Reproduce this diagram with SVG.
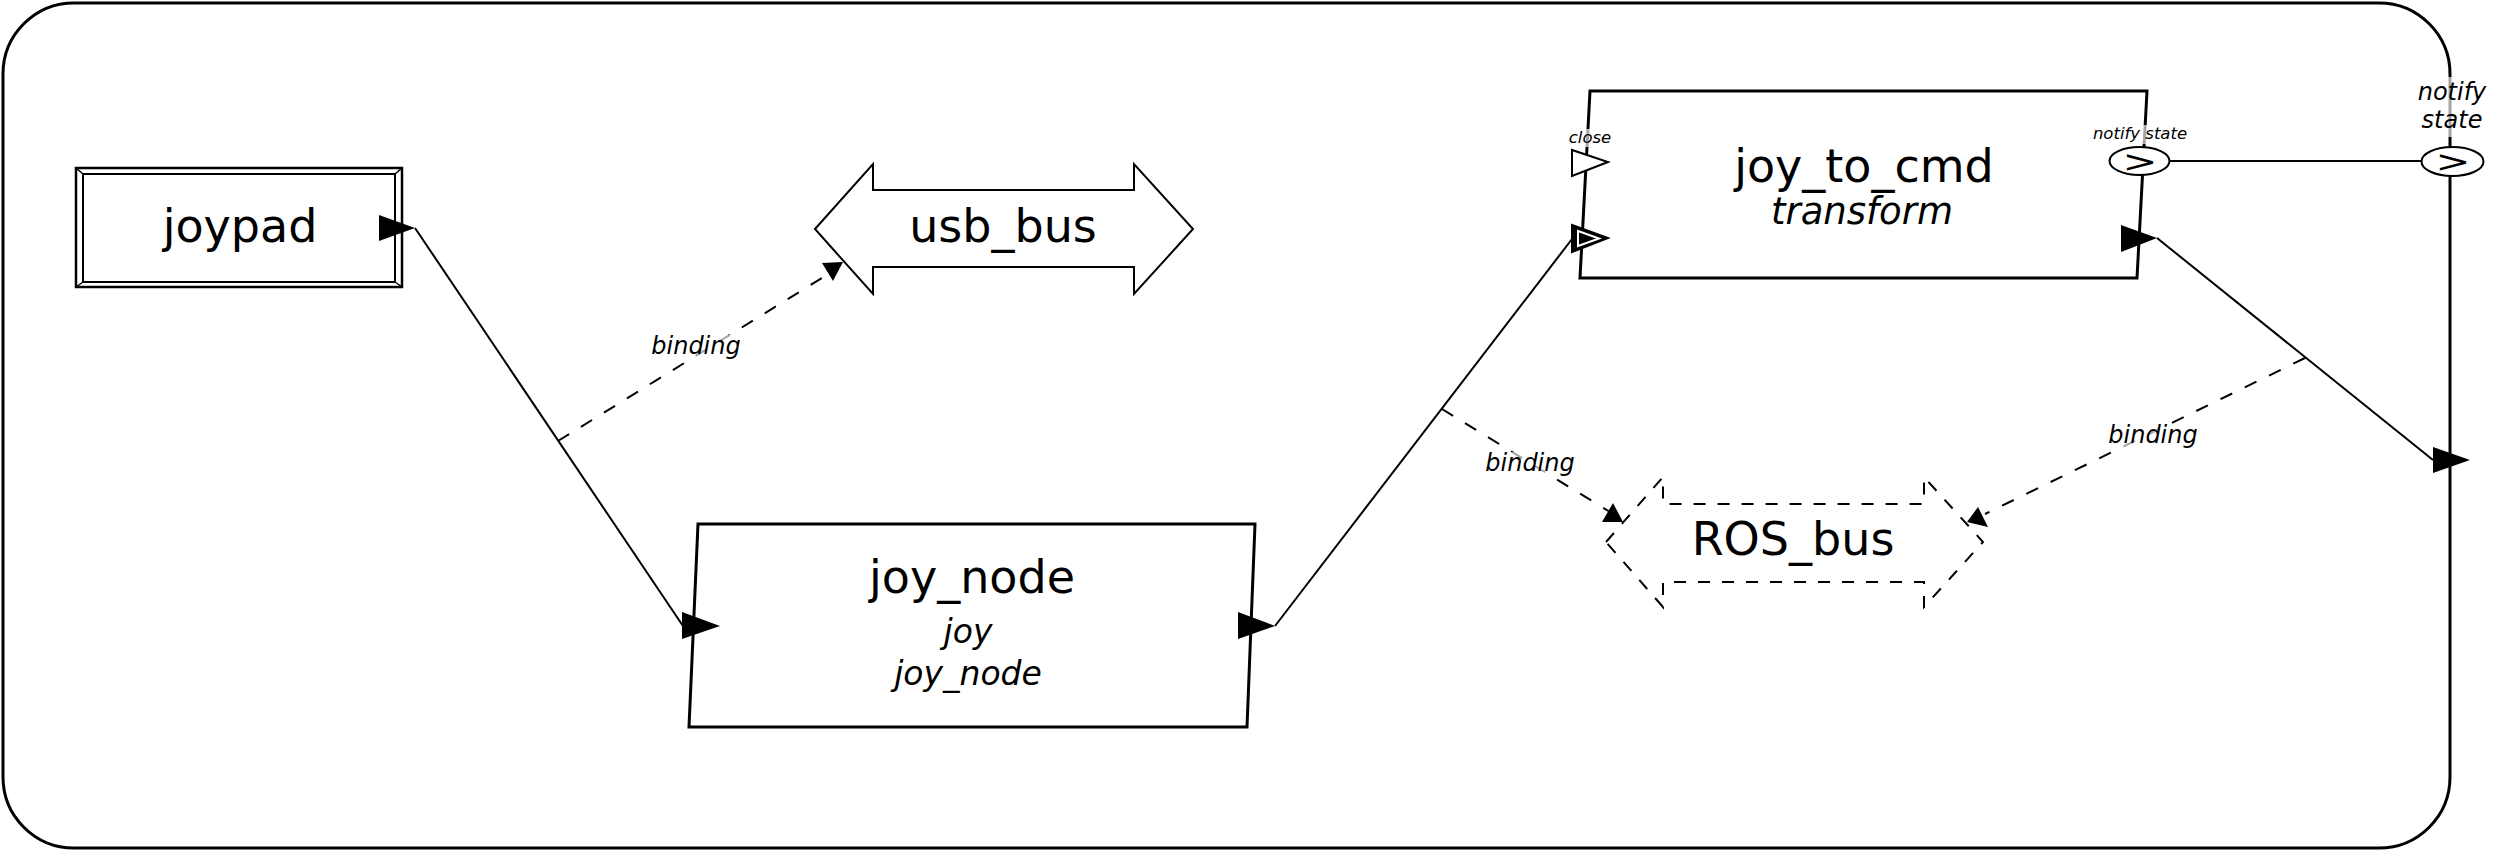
<svg xmlns="http://www.w3.org/2000/svg" width="2494" height="851" viewBox="0 0 2494 851">
<style>
text{font-family:"DejaVu Sans","Liberation Sans",sans-serif;fill:#000}
.title{font-size:46px;text-anchor:middle}
.sub{font-style:italic;text-anchor:middle}
.lbl{font-style:italic;font-size:24px;text-anchor:middle}
.plbl{font-style:italic;font-size:16.5px;text-anchor:middle}
.box{fill:#fff;stroke:#000;stroke-width:3}
.bus{fill:#fff;stroke:#000;stroke-width:2}
.dbus{fill:none;stroke:#000;stroke-width:2;stroke-dasharray:12 12}
.wire{fill:none;stroke:#000;stroke-width:2}
.bind{fill:none;stroke:#000;stroke-width:2;stroke-dasharray:13 14}
.blk{fill:#000;stroke:none}
.oport{fill:#fff;stroke:#000;stroke-width:2}
.bg{fill:#fff;fill-opacity:0.65}
.gt{font-size:31px;text-anchor:middle}
</style>

<g id="frame">
<rect x="3" y="3" width="2447" height="845" rx="71" ry="71" fill="#fff" stroke="#000" stroke-width="3"/>
</g>

<g id="joypad">
<rect x="76" y="168" width="326" height="119" fill="#fff" stroke="#000" stroke-width="2.5"/>
<rect x="83" y="174" width="312" height="108" fill="#fff" stroke="#000" stroke-width="2"/>
<path d="M76 168L83 174M402 168L395 174M76 287L83 282M402 287L395 282" stroke="#000" stroke-width="1.5"/>
<text class="title" x="240" y="242">joypad</text>
<polygon class="blk" points="379,215 379,241 415,228"/>
</g>

<g id="usb_bus">
<polygon class="bus" points="815,229 873,164 873,190 1134,190 1134,164 1193,229 1134,294 1134,267 873,267 873,294"/>
<text class="title" x="1003" y="242">usb_bus</text>
</g>

<g id="joy_node">
<polygon class="box" points="698,524 1255,524 1247,727 689,727"/>
<text class="title" x="972" y="593">joy_node</text>
<text class="sub" x="968" y="643" font-size="33">joy</text>
<text class="sub" x="968" y="685" font-size="33">joy_node</text>
<polygon class="blk" points="682,612 682,639 720,626"/>
<polygon class="blk" points="1238,612 1238,639 1275,626"/>
</g>

<g id="ROS_bus">
<polygon fill="#fff" stroke="none" points="1606,542 1663,477 1663,504 1924,504 1924,477 1983,542 1924,607 1924,582 1663,582 1663,607"/>
<polygon class="dbus" points="1606,542 1663,477 1663,504 1924,504 1924,477 1983,542 1924,607 1924,582 1663,582 1663,607"/>
<text class="title" x="1793" y="555">ROS_bus</text>
</g>

<g id="joy_to_cmd">
<polygon class="box" points="1590,91 2147,91 2137,278 1580,278"/>
<text class="title" x="1864" y="182">joy_to_cmd</text>
<text class="sub" x="1862" y="224" font-size="37">transform</text>
<rect class="bg" x="1568" y="129" width="44" height="18"/>
<text class="plbl" x="1590" y="143">close</text>
<polygon class="oport" points="1572,150 1572,176 1608,162"/>
<polygon fill="#000" stroke="#000" stroke-width="2" points="1572,225 1572,252 1608,238"/>
<polygon fill="#000" stroke="#fff" stroke-width="2" points="1578,231 1578,246 1599,238.5"/>
<rect class="bg" x="2091" y="125" width="97" height="19"/>
<text class="plbl" x="2140" y="139">notify state</text>
<ellipse class="oport" cx="2139.5" cy="161" rx="30" ry="14"/>
<text class="gt" x="2140" y="172" textLength="35" lengthAdjust="spacingAndGlyphs">&gt;</text>
<polygon class="blk" points="2121,225 2121,252 2157,238"/>
</g>

<g id="boundary_ports">
<rect class="bg" x="2415" y="77" width="76" height="60"/>
<text class="lbl" x="2452" y="100">notify</text>
<text class="lbl" x="2452" y="128">state</text>
<ellipse class="oport" cx="2452.5" cy="161.5" rx="31" ry="14.5"/>
<text class="gt" x="2453" y="172" textLength="35" lengthAdjust="spacingAndGlyphs">&gt;</text>
<polygon class="blk" points="2433,447 2433,473 2470,460"/>
</g>

<g id="connectors">
<line class="wire" x1="415" y1="228" x2="683" y2="626"/>
<line class="wire" x1="1275" y1="626" x2="1572" y2="239"/>
<line class="wire" x1="2157" y1="238" x2="2433" y2="460"/>
<line class="wire" x1="2170" y1="161" x2="2422" y2="161"/>

<line class="bind" x1="558" y1="441" x2="830" y2="273"/>
<polygon class="blk" points="822,263 843,262 833,281"/>
<rect class="bg" x="650" y="335" width="93" height="25"/>
<text class="lbl" x="696" y="354">binding</text>

<line class="bind" x1="1442" y1="409" x2="1610" y2="512"/>
<polygon class="blk" points="1602,522 1613,503 1623,522"/>
<rect class="bg" x="1484" y="452" width="92" height="25"/>
<text class="lbl" x="1530" y="471">binding</text>

<line class="bind" x1="2305" y1="358" x2="1985" y2="514"/>
<polygon class="blk" points="1967,522 1978,507 1988,527"/>
<rect class="bg" x="2107" y="425" width="92" height="25"/>
<text class="lbl" x="2153" y="443">binding</text>
</g>
</svg>
